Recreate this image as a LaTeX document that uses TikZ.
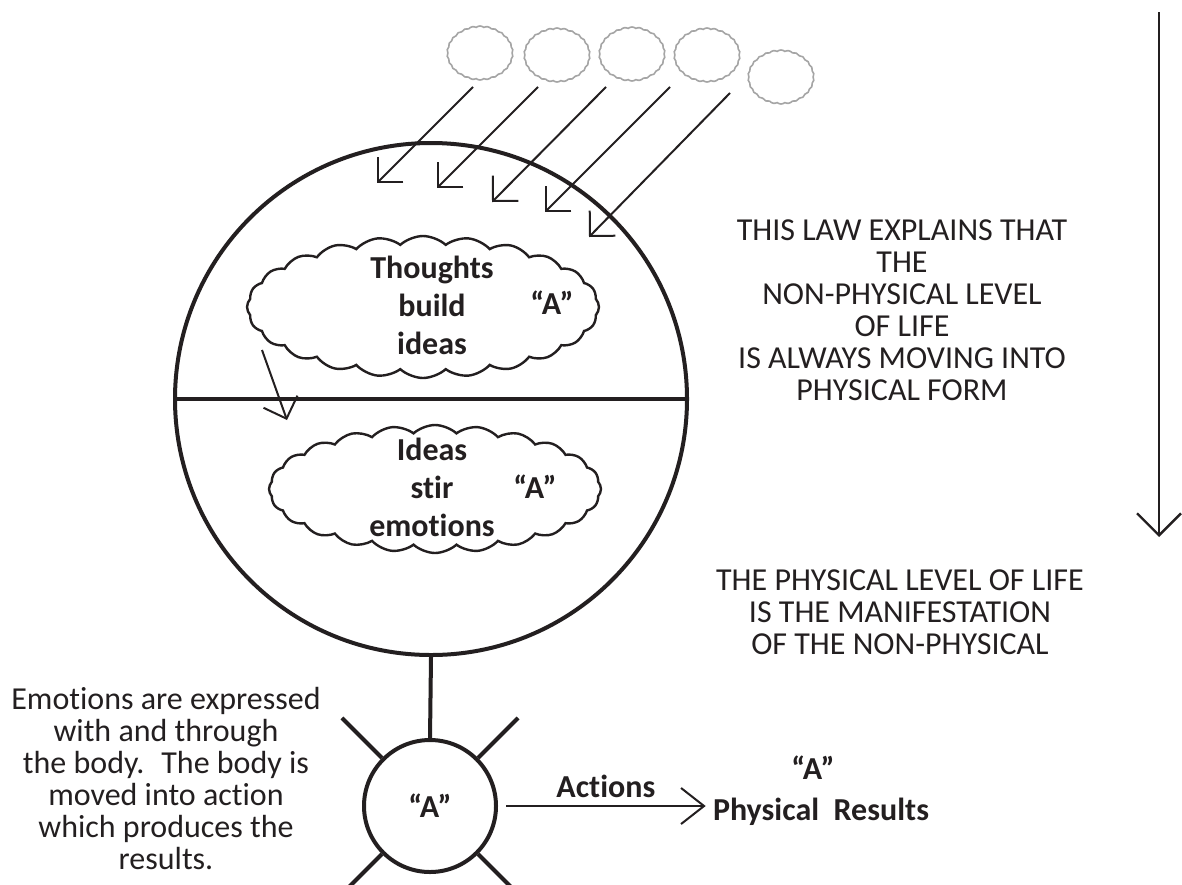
\documentclass[tikz,border=0pt]{standalone}
\usepackage{fontspec}
\setmainfont{Carlito}[Ligatures=NoCommon]
\usetikzlibrary{arrows.meta,positioning,shapes.symbols}
\definecolor{ink}{RGB}{35,31,32}
\definecolor{puffgray}{RGB}{165,165,165}

\begin{document}
\begin{tikzpicture}[x=0.5pt,y=-0.5pt,
    every node/.style={inner sep=0pt, text=ink, font=\fontsize{16}{16}\selectfont},
    heavy/.style={draw=ink, line width=2pt},
    barb/.style={draw=ink, line width=1pt, -{Straight Barb[length=9pt,width=18pt]}},
    boldtext/.style={font=\fontsize{16}{19}\selectfont\bfseries, align=center},
    bigcloud/.style={cloud, cloud puffs=24, cloud puff arc=85, cloud ignores aspect,
        draw=ink, line width=1.2pt},
    smallcloud/.style={cloud, cloud puffs=26, cloud puff arc=80, cloud ignores aspect,
        draw=puffgray, line width=0.8pt, minimum width=33pt, minimum height=27pt}]
    \useasboundingbox (0,0) rectangle (1182,884);
    \clip (0,0) rectangle (1182,884);

    % thoughts waiting above
    \foreach \i/\x/\y in {1/480/53, 2/557/55, 3/632/54, 4/707/55, 5/781/77}
        \node[smallcloud] (idea\i) at (\x,\y) {};

    % the mind
    \node[circle, heavy, minimum size=256pt] (mind) at (431,399) {};
    \draw[heavy] (mind.west) -- (mind.east);

    \foreach \i/\sx/\sy/\tx/\ty in {1/473/87/377/183, 2/538/87/437/188,
        3/606/87/492/202, 4/670/87/545/212, 5/730/93/589/237} {
        \coordinate (from\i) at (\sx,\sy);
        \coordinate (into\i) at (\tx,\ty);
        \draw[barb] (from\i) -- (into\i);
    }

    \node[bigcloud, minimum width=176pt, minimum height=71pt] (thinkcloud) at (423,307) {};
    \node[boldtext] (thoughts) at (432,305) {Thoughts\\build\\ideas};
    \node[boldtext] (athought) at (552,303) {“A”};

    \node[bigcloud, minimum width=166pt, minimum height=64pt] (feelcloud) at (435,489) {};
    \node[boldtext] (ideas) at (432,487) {Ideas\\stir\\emotions};
    \node[boldtext] (afeel) at (535,487) {“A”};

    \coordinate (dropstart) at (262,350);
    \coordinate (dropend) at (287,420);
    \draw[barb] (dropstart) -- (dropend);

    % the body
    \node[circle, heavy, minimum size=66pt, font=\fontsize{16}{16}\selectfont\bfseries] (body) at (430,806) {“A”};
    \draw[heavy] (mind.south) -- (body.north);
    \foreach \a/\dx/\dy in {45/40/-40, 135/-40/-40, 225/-40/40, 315/40/40}
        \draw[heavy] (body.\a) -- ++(\dx,\dy);

    \node[boldtext] (aresult) at (813,768) {“A”};
    \node[boldtext] (results) at (821,812) {Physical~ Results};
    \draw[barb, -{Straight Barb[length=11.5pt,width=18pt]}]
        ([xshift=4pt]body.east) -- ([xshift=-3.5pt]body.east -| results.west)
        node[midway, above=3.5pt, boldtext] (actions) {Actions};

    \node[align=center] (bodytext) at (166,778) {Emotions are expressed\\with and through\\the body.~ The body is\\moved into action\\which produces the\\results.};

    % the law
    \node[align=center] (lawtext) at (902,310) {THIS LAW EXPLAINS THAT\\THE\\NON-PHYSICAL LEVEL\\OF LIFE\\IS ALWAYS MOVING INTO\\PHYSICAL FORM};
    \node[align=center] (manifest) at (900,612) {THE PHYSICAL LEVEL OF LIFE\\IS THE MANIFESTATION\\OF THE NON-PHYSICAL};

    \coordinate (lawtop) at (1159,12);
    \coordinate (lawtip) at (1159,537);
    \draw[barb, line width=1.2pt, -{Straight Barb[length=11pt,width=22pt]}] (lawtop) -- (lawtip);
\end{tikzpicture}
\end{document}
